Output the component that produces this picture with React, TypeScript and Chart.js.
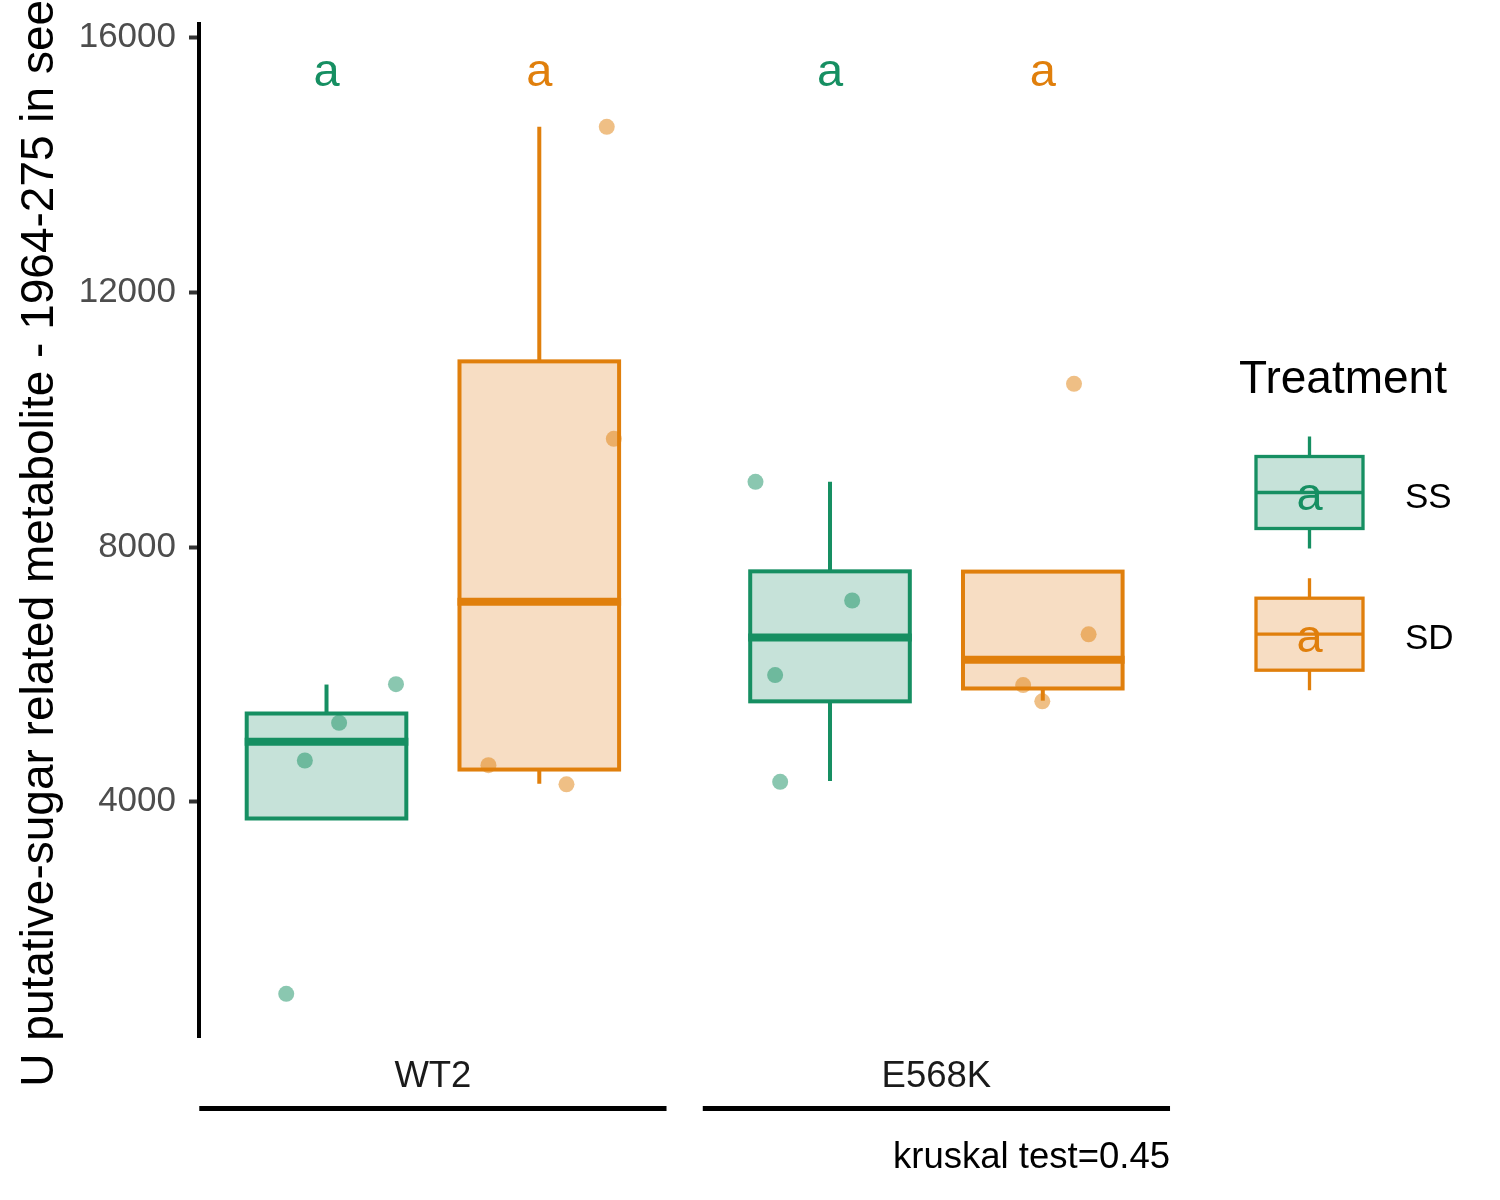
import React, { useEffect, useRef } from 'react';
import { Chart, registerables } from 'chart.js';

Chart.register(...registerables);

const genotypes = ['WT2', 'E568K'];
const treatments = ['SS', 'SD'];

// box statistics, one value per genotype
const ssLower = [3738, 4325];
const ssQ1 = [3738, 5578];
const ssMedian = [4942, 6579];
const ssQ3 = [5387, 7620];
const ssUpper = [5842, 9026];

const sdLower = [4283, 5589];
const sdQ1 = [4507, 5780];
const sdMedian = [7141, 6230];
const sdQ3 = [10918, 7616];
const sdUpper = [14602, 7616];

// jittered observations (jitter in x units)
const ssWT2Values = [984, 4649, 5241, 5848];
const ssWT2Jitter = [-0.08, -0.043, 0.025, 0.138];
const ssE568KValues = [9026, 7162, 5990, 4314];
const ssE568KJitter = [-0.148, 0.044, -0.109, -0.099];
const sdWT2Values = [14602, 9701, 4576, 4275];
const sdWT2Jitter = [0.134, 0.148, -0.101, 0.054];
const sdE568KValues = [10565, 6631, 5833, 5578];
const sdE568KJitter = [0.062, 0.091, -0.039, -0.001];

// significance letters
const letterValue = 15447;
const ssLetters = ['a', 'a'];
const sdLetters = ['a', 'a'];

const yTicks = [4000, 8000, 12000, 16000];
const yTitle = 'U putative-sugar related metabolite - 1964-275 in seed';
const testLabel = 'kruskal test=0.45';

const FONT = '"Liberation Sans", Arial, Helvetica, sans-serif';
const GREEN = '#168F62';
const ORANGE = '#E07F0C';
const GREEN_FILL = '#C6E2D9';
const ORANGE_FILL = '#F7DDC3';
const GREEN_PT = 'rgba(22,143,98,0.5)';
const ORANGE_PT = 'rgba(224,127,12,0.5)';

const DODGE = 0.2113;
const HALF_BOX = 0.1585;
const HALF_GROUP = 0.464;

const stats = [
  { lower: ssLower, q1: ssQ1, med: ssMedian, q3: ssQ3, upper: ssUpper, line: GREEN, fill: GREEN_FILL, offset: -DODGE, letters: ssLetters },
  { lower: sdLower, q1: sdQ1, med: sdMedian, q3: sdQ3, upper: sdUpper, line: ORANGE, fill: ORANGE_FILL, offset: DODGE, letters: sdLetters },
];

const toPoints = (values: number[][], jitter: number[][], offset: number) =>
  values.flatMap((vals, g) => vals.map((y, i) => ({ x: g + 1 + offset + jitter[g][i], y })));

const boxPlugin = {
  id: 'boxes',
  beforeDatasetsDraw(chart: any) {
    const { ctx, scales: { x, y } } = chart;
    ctx.save();
    stats.forEach((s) => {
      genotypes.forEach((_, g) => {
        const c = g + 1 + s.offset;
        const x0 = x.getPixelForValue(c - HALF_BOX);
        const x1 = x.getPixelForValue(c + HALF_BOX);
        const xc = x.getPixelForValue(c);
        const yq1 = y.getPixelForValue(s.q1[g]);
        const yq3 = y.getPixelForValue(s.q3[g]);
        ctx.strokeStyle = s.line;
        ctx.lineCap = 'butt';
        ctx.lineJoin = 'miter';
        ctx.lineWidth = 4;
        ctx.beginPath();
        if (s.upper[g] > s.q3[g]) {
          ctx.moveTo(xc, yq3);
          ctx.lineTo(xc, y.getPixelForValue(s.upper[g]));
        }
        if (s.lower[g] < s.q1[g]) {
          ctx.moveTo(xc, yq1);
          ctx.lineTo(xc, y.getPixelForValue(s.lower[g]));
        }
        ctx.stroke();
        ctx.fillStyle = s.fill;
        ctx.fillRect(x0, yq3, x1 - x0, yq1 - yq3);
        ctx.strokeRect(x0, yq3, x1 - x0, yq1 - yq3);
        ctx.lineWidth = 8;
        ctx.beginPath();
        const ym = y.getPixelForValue(s.med[g]);
        ctx.moveTo(x0 - 2, ym);
        ctx.lineTo(x1 + 2, ym);
        ctx.stroke();
      });
    });
    ctx.restore();
  },
  afterDatasetsDraw(chart: any) {
    const { ctx, scales: { x, y } } = chart;
    ctx.save();
    ctx.font = `47px ${FONT}`;
    ctx.textAlign = 'center';
    ctx.textBaseline = 'middle';
    stats.forEach((s) => {
      genotypes.forEach((_, g) => {
        ctx.fillStyle = s.line;
        ctx.fillText(s.letters[g], x.getPixelForValue(g + 1 + s.offset), y.getPixelForValue(letterValue));
      });
    });
    ctx.restore();
  },
  afterDraw(chart: any) {
    const { ctx, scales: { x } } = chart;
    ctx.save();
    // group underline
    ctx.strokeStyle = '#000';
    ctx.lineWidth = 5;
    ctx.lineCap = 'butt';
    genotypes.forEach((_, g) => {
      ctx.beginPath();
      ctx.moveTo(x.getPixelForValue(g + 1 - HALF_GROUP), 1108.5);
      ctx.lineTo(x.getPixelForValue(g + 1 + HALF_GROUP), 1108.5);
      ctx.stroke();
    });

    // legend
    ctx.fillStyle = '#000';
    ctx.font = `46px ${FONT}`;
    ctx.textAlign = 'left';
    ctx.textBaseline = 'alphabetic';
    ctx.fillText('Treatment', 1239, 393);
    treatments.forEach((t, i) => {
      const s = stats[i];
      const cy = 492.5 + i * 141.7;
      const kx0 = 1256;
      const kx1 = 1363;
      const kxc = (kx0 + kx1) / 2;
      ctx.strokeStyle = s.line;
      ctx.lineWidth = 3.3;
      ctx.beginPath();
      ctx.moveTo(kxc, cy - 56);
      ctx.lineTo(kxc, cy - 36);
      ctx.moveTo(kxc, cy + 36);
      ctx.lineTo(kxc, cy + 56);
      ctx.stroke();
      ctx.fillStyle = s.fill;
      ctx.fillRect(kx0, cy - 36, kx1 - kx0, 72);
      ctx.strokeRect(kx0, cy - 36, kx1 - kx0, 72);
      ctx.beginPath();
      ctx.moveTo(kx0, cy);
      ctx.lineTo(kx1, cy);
      ctx.stroke();
      ctx.fillStyle = s.line;
      ctx.font = `47px ${FONT}`;
      ctx.textAlign = 'center';
      ctx.textBaseline = 'middle';
      ctx.fillText(s.letters[0], kxc, cy + 5);
      ctx.fillStyle = '#000';
      ctx.font = `35px ${FONT}`;
      ctx.textAlign = 'left';
      ctx.textBaseline = 'alphabetic';
      ctx.fillText(t, 1405, cy + 15);
    });
    ctx.restore();
  },
};

const App: React.FC = () => {
  const canvasRef = useRef<HTMLCanvasElement | null>(null);
  const chartRef = useRef<Chart | null>(null);

  useEffect(() => {
    if (!canvasRef.current) return;
    if (chartRef.current) chartRef.current.destroy();

    chartRef.current = new Chart(canvasRef.current, {
      type: 'scatter',
      data: {
        datasets: [
          {
            label: 'SS',
            data: toPoints([ssWT2Values, ssE568KValues], [ssWT2Jitter, ssE568KJitter], -DODGE),
            backgroundColor: GREEN_PT,
            borderWidth: 0,
            pointRadius: 8,
            pointHoverRadius: 8,
          },
          {
            label: 'SD',
            data: toPoints([sdWT2Values, sdE568KValues], [sdWT2Jitter, sdE568KJitter], DODGE),
            backgroundColor: ORANGE_PT,
            borderWidth: 0,
            pointRadius: 8,
            pointHoverRadius: 8,
          },
        ],
      },
      options: {
        animation: false,
        responsive: false,
        layout: { padding: { top: 24, right: 330, left: 0, bottom: 0 } },
        plugins: {
          legend: { display: false },
          tooltip: { enabled: false },
        },
        scales: {
          x: {
            type: 'linear',
            min: 0.53545,
            max: 2.46395,
            afterBuildTicks: (axis: any) => {
              axis.ticks = genotypes.map((_, i) => ({ value: i + 1 }));
            },
            afterFit: (axis: any) => {
              axis.height = 163;
              axis.paddingLeft = 0;
              axis.paddingRight = 0;
            },
            ticks: {
              autoSkip: false,
              maxRotation: 0,
              padding: 18,
              color: '#1a1a1a',
              font: { family: FONT, size: 36.5 },
              callback: (_v: any, i: number) => genotypes[i],
            },
            grid: { display: false, drawTicks: false, tickLength: 0 },
            border: { display: false },
            title: {
              display: true,
              text: testLabel,
              align: 'end',
              color: '#000',
              font: { family: FONT, size: 36.5 },
              padding: { top: 0, bottom: 20 },
            },
          },
          y: {
            type: 'linear',
            min: 306,
            max: 16217,
            afterBuildTicks: (axis: any) => {
              axis.ticks = yTicks.map((v) => ({ value: v }));
            },
            afterFit: (axis: any) => {
              axis.width = 199;
              axis.paddingTop = 0;
              axis.paddingBottom = 0;
            },
            ticks: {
              padding: 13,
              color: '#4d4d4d',
              font: { family: FONT, size: 35 },
              callback: (v: any) => String(v),
            },
            grid: { drawOnChartArea: false, tickLength: 10, tickWidth: 4, tickColor: '#333333' },
            border: { display: true, color: '#000', width: 4 },
            title: {
              display: true,
              text: yTitle,
              color: '#000',
              font: { family: FONT, size: 46 },
              padding: { top: 13, bottom: 0 },
            },
          },
        },
      },
      plugins: [boxPlugin],
    });

    return () => {
      if (chartRef.current) {
        chartRef.current.destroy();
        chartRef.current = null;
      }
    };
  }, []);

  return (
    <div style={{ position: 'absolute', left: 0, top: 0, width: 1500, height: 1200, background: '#fff' }}>
      <canvas ref={canvasRef} width={1500} height={1200} style={{ width: 1500, height: 1200 }}></canvas>
    </div>
  );
};

export default App;
